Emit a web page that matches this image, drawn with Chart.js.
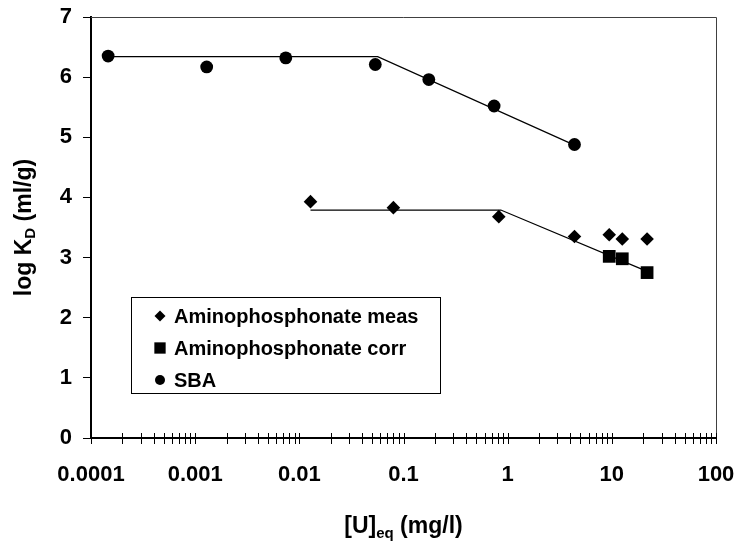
<!DOCTYPE html>
<html>
<head>
<meta charset="utf-8">
<script src="https://cdn.jsdelivr.net/npm/chart.js@4.4.0/dist/chart.umd.min.js"></script>
<style>
  html, body { margin: 0; padding: 0; background: #fff; }
</style>
</head>
<body>
<canvas id="myChart" width="738" height="543"></canvas>
<script>
  // SBA
  const sbaX = [0.000146, 0.00129, 0.00741, 0.0536, 0.175, 0.741, 4.38];
  const sbaY = [6.35, 6.17, 6.32, 6.21, 5.96, 5.52, 4.88];
  // Aminophosphonate meas / corr
  const measX = [0.0128, 0.080, 0.822, 4.38, 9.44, 12.6, 21.8];
  const measY = [3.93, 3.83, 3.68, 3.35, 3.38, 3.31, 3.31];
  const corrX = [9.44, 12.6, 21.8];
  const corrY = [3.02, 2.98, 2.75];
  // fitted lines (break points)
  const sbaFitX = [0.000146, 0.0565, 4.38];
  const sbaFitY = [6.34, 6.34, 4.87];
  const apFitX = [0.0128, 0.86, 21.8];
  const apFitY = [3.79, 3.79, 2.77];
  // axis ticks
  const xDecades = [0.0001, 0.001, 0.01, 0.1, 1, 10, 100];
  const xTickLabels = ['0.0001', '0.001', '0.01', '0.1', '1', '10', '100'];
  const yTicks = [0, 1, 2, 3, 4, 5, 6, 7];

  const FONT = '"Liberation Sans", Arial, sans-serif';

  function pts(xs, ys) {
    return xs.map((x, i) => ({ x: x, y: ys[i] }));
  }

  // crossing tick marks on the x axis, plot frame, axis titles and legend box
  const decorations = {
    id: 'decorations',
    afterDraw(chart) {
      const ctx = chart.ctx;
      const a = chart.chartArea;
      const xs = chart.scales.x;
      ctx.save();

      // frame top / right
      ctx.strokeStyle = '#404040';
      ctx.lineWidth = 1;
      ctx.beginPath();
      ctx.moveTo(a.left, a.top + 0.5);
      ctx.lineTo(a.right + 0.5, a.top + 0.5);
      ctx.lineTo(a.right + 0.5, a.bottom);
      ctx.stroke();

      // x ticks crossing the axis
      ctx.strokeStyle = '#000';
      ctx.beginPath();
      xs.ticks.forEach(t => {
        const px = Math.round(xs.getPixelForValue(t.value)) + 0.5;
        ctx.moveTo(px, a.bottom - 5);
        ctx.lineTo(px, a.bottom + 6);
      });
      ctx.stroke();

      // x title with subscript
      ctx.fillStyle = '#000';
      ctx.textBaseline = 'alphabetic';
      const big = 'bold 23px ' + FONT, small = 'bold 15px ' + FONT;
      ctx.font = big;
      const w1 = ctx.measureText('[U]').width;
      const w3 = ctx.measureText(' (mg/l)').width;
      ctx.font = small;
      const w2 = ctx.measureText('eq').width;
      let x0 = (a.left + a.right) / 2 - (w1 + w2 + w3) / 2;
      const yb = 533;
      ctx.font = big; ctx.fillText('[U]', x0, yb);
      ctx.font = small; ctx.fillText('eq', x0 + w1, yb + 5);
      ctx.font = big; ctx.fillText(' (mg/l)', x0 + w1 + w2, yb);

      // y title, rotated
      ctx.save();
      ctx.translate(31, (a.top + a.bottom) / 2);
      ctx.rotate(-Math.PI / 2);
      ctx.font = big;
      const v1 = ctx.measureText('log K').width;
      const v3 = ctx.measureText(' (ml/g)').width;
      ctx.font = small;
      const v2 = ctx.measureText('D').width;
      let s0 = -(v1 + v2 + v3) / 2;
      ctx.font = big; ctx.fillText('log K', s0, 0);
      ctx.font = small; ctx.fillText('D', s0 + v1, 4);
      ctx.font = big; ctx.fillText(' (ml/g)', s0 + v1 + v2, 0);
      ctx.restore();

      // legend box
      const box = { left: 131, top: 297, width: 309, height: 96 };
      ctx.fillStyle = '#fff';
      ctx.fillRect(box.left, box.top, box.width, box.height);
      ctx.strokeStyle = '#000';
      ctx.lineWidth = 1;
      ctx.strokeRect(box.left + 0.5, box.top + 0.5, box.width, box.height);
      const legendRadius = [5.5, 8, 5];
      ctx.font = 'bold 20px ' + FONT;
      ctx.textBaseline = 'middle';
      [0, 1, 2].forEach(i => {
        const ds = chart.data.datasets[i];
        const cy = box.top + 19 + i * 32;
        ctx.fillStyle = '#000';
        Chart.helpers.drawPoint(ctx, { pointStyle: ds.pointStyle, radius: legendRadius[i], rotation: 0, borderWidth: 0 }, box.left + 29, cy);
        ctx.fillStyle = '#000';
        ctx.fillText(ds.label, box.left + 43, cy + 1);
      });
      ctx.restore();
    }
  };

  const ctx = document.getElementById('myChart').getContext('2d');
  const myChart = new Chart(ctx, {
    type: 'scatter',
    data: {
      datasets: [
        { label: 'Aminophosphonate meas', data: pts(measX, measY), pointStyle: 'rectRot', pointRadius: 6.8, backgroundColor: '#000', borderWidth: 0 },
        { label: 'Aminophosphonate corr', data: pts(corrX, corrY), pointStyle: 'rect', pointRadius: 9, backgroundColor: '#000', borderWidth: 0 },
        { label: 'SBA', data: pts(sbaX, sbaY), pointStyle: 'circle', pointRadius: 6.4, backgroundColor: '#000', borderWidth: 0 },
        { label: 'SBA fit', data: pts(sbaFitX, sbaFitY), showLine: true, pointRadius: 0, borderColor: '#000', borderWidth: 1.2 },
        { label: 'AP fit', data: pts(apFitX, apFitY), showLine: true, pointRadius: 0, borderColor: '#000', borderWidth: 1.2 }
      ]
    },
    options: {
      responsive: false,
      animation: false,
      events: [],
      layout: { padding: { top: 17, right: 22, left: 0, bottom: 0 } },
      plugins: {
        legend: { display: false },
        tooltip: { enabled: false }
      },
      scales: {
        x: {
          type: 'logarithmic',
          min: 0.0001,
          max: 100,
          afterBuildTicks(scale) {
            const t = [];
            xDecades.forEach(d => {
              if (d === 100) { t.push({ value: d }); return; }
              for (let m = 1; m <= 9; m++) t.push({ value: m * d });
            });
            scale.ticks = t;
          },
          afterFit(scale) {
            scale.height = 105;
            scale.paddingLeft = 0;
            scale.paddingRight = 0;
          },
          grid: { display: false, drawTicks: false },
          border: { display: true, color: '#000', width: 2 },
          ticks: {
            autoSkip: false,
            maxRotation: 0,
            padding: 24,
            color: '#000',
            font: { family: FONT, size: 22, weight: 'bold' },
            callback(value) {
              const i = xDecades.findIndex(d => Math.abs(Math.log10(d) - Math.log10(value)) < 1e-6);
              return i >= 0 ? xTickLabels[i] : '';
            }
          }
        },
        y: {
          min: 0,
          max: 7,
          afterBuildTicks(scale) {
            scale.ticks = yTicks.map(v => ({ value: v }));
          },
          afterFit(scale) {
            scale.width = 91;
            scale.paddingTop = 0;
            scale.paddingBottom = 0;
          },
          grid: { drawOnChartArea: false, drawTicks: true, tickLength: 8, color: '#000' },
          border: { display: true, color: '#000', width: 2 },
          ticks: {
            padding: 11,
            color: '#000',
            font: { family: FONT, size: 22, weight: 'bold' }
          }
        }
      }
    },
    plugins: [decorations]
  });
</script>
</body>
</html>
